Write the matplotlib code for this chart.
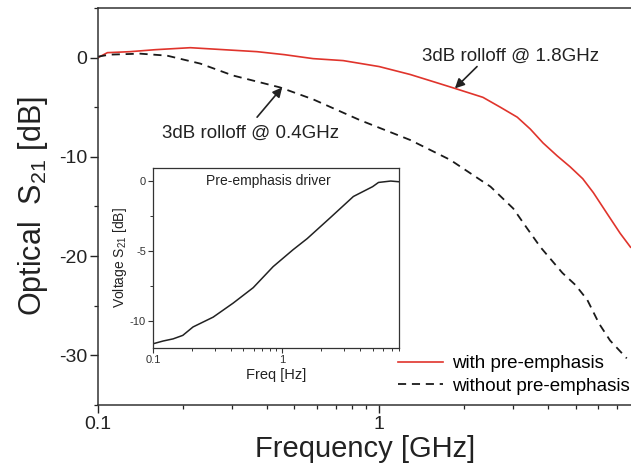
import matplotlib
matplotlib.use("Agg")
import matplotlib.pyplot as plt
from matplotlib.ticker import MultipleLocator, LogLocator, NullFormatter

plt.rcParams['font.family'] = ['Liberation Sans', 'DejaVu Sans']
plt.rcParams['axes.unicode_minus'] = False
plt.rcParams['mathtext.fontset'] = 'custom'
plt.rcParams['mathtext.rm'] = 'Liberation Sans'
plt.rcParams['mathtext.it'] = 'Liberation Sans'
plt.rcParams['mathtext.default'] = 'regular'

# ---- data ----
f_with = [0.1, 0.108, 0.13, 0.16, 0.213, 0.28, 0.368, 0.46, 0.582, 0.745, 1.0,
          1.29, 1.55, 1.86, 2.34, 2.7, 3.10, 3.45, 3.83, 4.3, 4.78, 5.3, 5.78,
          6.5, 7.2, 7.84]
s_with = [0.0, 0.5, 0.6, 0.8, 1.0, 0.8, 0.6, 0.3, -0.1, -0.3, -0.9,
          -1.7, -2.4, -3.1, -4.0, -5.0, -6.0, -7.2, -8.6, -9.9, -11.0, -12.2, -13.6,
          -15.8, -17.7, -19.1]

f_without = [0.1, 0.11, 0.141, 0.176, 0.231, 0.302, 0.444, 0.582, 0.855, 1.29,
             1.79, 2.49, 3.0, 3.36, 3.75, 4.49, 4.99, 5.5, 6.06, 6.63, 7.6]
s_without = [0.1, 0.3, 0.4, 0.2, -0.6, -1.8, -3.0, -4.2, -6.3, -8.3,
             -10.3, -13.0, -15.2, -17.2, -19.1, -21.7, -22.9, -24.4, -26.8, -28.5, -30.3]

f_driver = [0.1, 0.12, 0.143, 0.17, 0.204, 0.292, 0.417, 0.596, 0.85, 1.21,
            1.56, 2.36, 3.55, 5.0, 5.55, 6.9, 8.0]
s_driver = [-11.6, -11.4, -11.25, -11.0, -10.4, -9.7, -8.7, -7.6, -6.1, -4.9,
            -4.1, -2.6, -1.1, -0.4, -0.1, 0.0, -0.05]

x_ticks = [0.1, 1]
x_ticklabels = ['0.1', '1']
y_ticks = [-30, -20, -10, 0]
inset_y_ticks = [-10, -5, 0]

legend_labels = ['with pre-emphasis', 'without pre-emphasis']

# ---- figure ----
fig = plt.figure(figsize=(6.31, 4.65), dpi=100)
ax = fig.add_axes([98/631, 1-405/465, 535/631, 397/465])

red = '#e0342c'
l1, = ax.plot(f_with, s_with, color=red, lw=1.2)
l2, = ax.plot(f_without, s_without, color='#1a1a1a', lw=1.3, dashes=(4.5, 3.2))

ax.set_xscale('log')
ax.set_xlim(0.1, 8)
ax.set_ylim(-35, 5)
ax.set_xticks(x_ticks)
ax.set_xticklabels(x_ticklabels)
ax.xaxis.set_minor_locator(LogLocator(base=10, subs=range(2, 10)))
ax.xaxis.set_minor_formatter(NullFormatter())
ax.set_yticks(y_ticks)
ax.yaxis.set_minor_locator(MultipleLocator(5))
ax.tick_params(which='major', direction='out', length=6, width=1.0, labelsize=14, pad=2, colors='#222222')
ax.tick_params(which='minor', direction='out', length=3, width=0.9, colors='#222222')
for s in ax.spines.values():
    s.set_linewidth(1.1)
    s.set_color('#333333')

ax.set_xlabel('Frequency [GHz]', fontsize=21, labelpad=1, color='#222222')
ax.set_ylabel('Optical  S$_{21}$ [dB]', fontsize=22, labelpad=6, color='#222222')

# annotations
ax.text(1.42, 0.1, '3dB rolloff @ 1.8GHz', fontsize=13.5, va='center', ha='left', color='#222222')
ax.annotate('', xy=(1.86, -3.1), xytext=(2.23, -0.9),
            arrowprops=dict(arrowstyle='-|>', color='#222222', lw=1.2, mutation_scale=14,
                            shrinkA=0, shrinkB=0))
ax.text(0.169, -7.6, '3dB rolloff @ 0.4GHz', fontsize=13.5, va='center', ha='left', color='#222222')
ax.annotate('', xy=(0.452, -3.0), xytext=(0.368, -6.0),
            arrowprops=dict(arrowstyle='-|>', color='#222222', lw=1.2, mutation_scale=14,
                            shrinkA=0, shrinkB=0))

ax.legend([l1, l2], legend_labels, loc='upper left', bbox_to_anchor=(398/631, 1-355/465),
          bbox_transform=fig.transFigure, frameon=False, borderpad=0, borderaxespad=0,
          fontsize=13.5, handlelength=2.4, handletextpad=0.5, labelspacing=0.3)

# ---- inset ----
ins = fig.add_axes([153/631, 1-348/465, 246/631, 180/465])
ins.plot(f_driver, s_driver, color='#222222', lw=1.1)
ins.set_xscale('log')
ins.set_xlim(0.1, 8)
ins.set_ylim(-11.9, 0.93)
ins.set_xticks(x_ticks)
ins.set_xticklabels(x_ticklabels)
ins.xaxis.set_minor_locator(LogLocator(base=10, subs=range(2, 10)))
ins.xaxis.set_minor_formatter(NullFormatter())
ins.set_yticks(inset_y_ticks)
ins.set_yticklabels(['-10', '-5', '0'])
ins.yaxis.set_minor_locator(MultipleLocator(2.5))
ins.tick_params(which='major', direction='out', length=3.5, width=0.8, labelsize=8, pad=1.5, colors='#333333')
ins.tick_params(which='minor', direction='out', length=2, width=0.7, colors='#333333')
for s in ins.spines.values():
    s.set_linewidth(0.9)
    s.set_color('#333333')
ins.set_xlabel('Freq [Hz]', fontsize=10.5, labelpad=2, color='#222222')
ins.set_ylabel('Voltage S$_{21}$ [dB]', fontsize=10, labelpad=1, color='#222222')
ins.text(0.47, 0.93, 'Pre-emphasis driver', transform=ins.transAxes, fontsize=10,
         ha='center', va='center', color='#222222')

fig.savefig('out.png', dpi=100)
